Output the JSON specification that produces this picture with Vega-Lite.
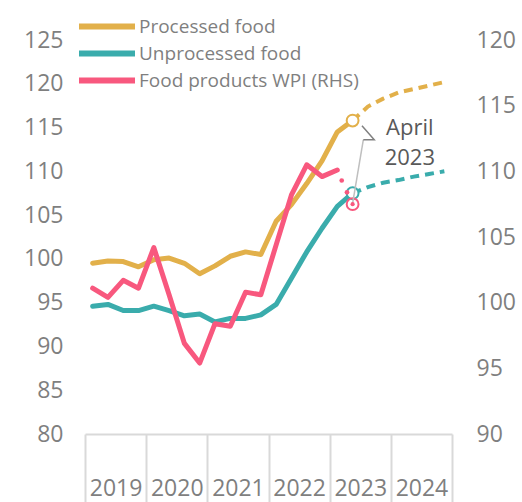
{
  "$schema": "https://vega.github.io/schema/vega-lite/v6.json",
  "width": 367,
  "height": 394,
  "autosize": {"type": "none"},
  "padding": {"left": 85, "top": 40, "right": 70, "bottom": 68},
  "background": "white",
  "config": {
    "view": {"stroke": null},
    "font": "Open Sans",
    "axis": {"labelFont": "Open Sans", "labelFontSize": 23, "labelColor": "#7f7f7f", "grid": false, "title": null},
    "legend": {
      "orient": "none", "legendX": -9, "legendY": -27, "padding": 0, "title": null,
      "symbolType": "stroke", "symbolSize": 3136, "symbolStrokeWidth": 6,
      "labelFont": "Open Sans", "labelFontSize": 19, "labelColor": "#7f7f7f", "labelOffset": 1, "labelLimit": 400,
      "rowPadding": 0, "clipHeight": 27
    }
  },
  "datasets": {
    "main": [
      {"s": "Processed food", "k": "h", "t": 2019.125, "v": 99.5},
      {"s": "Processed food", "k": "h", "t": 2019.375, "v": 99.75},
      {"s": "Processed food", "k": "h", "t": 2019.625, "v": 99.7},
      {"s": "Processed food", "k": "h", "t": 2019.875, "v": 99.1},
      {"s": "Processed food", "k": "h", "t": 2020.125, "v": 99.9},
      {"s": "Processed food", "k": "h", "t": 2020.375, "v": 100.1},
      {"s": "Processed food", "k": "h", "t": 2020.625, "v": 99.5},
      {"s": "Processed food", "k": "h", "t": 2020.875, "v": 98.3},
      {"s": "Processed food", "k": "h", "t": 2021.125, "v": 99.2},
      {"s": "Processed food", "k": "h", "t": 2021.375, "v": 100.3},
      {"s": "Processed food", "k": "h", "t": 2021.625, "v": 100.8},
      {"s": "Processed food", "k": "h", "t": 2021.875, "v": 100.5},
      {"s": "Processed food", "k": "h", "t": 2022.125, "v": 104.3},
      {"s": "Processed food", "k": "h", "t": 2022.375, "v": 106.2},
      {"s": "Processed food", "k": "h", "t": 2022.625, "v": 108.6},
      {"s": "Processed food", "k": "h", "t": 2022.875, "v": 111.2},
      {"s": "Processed food", "k": "h", "t": 2023.125, "v": 114.5},
      {"s": "Processed food", "k": "h", "t": 2023.375, "v": 115.8},
      {"s": "Processed food", "k": "p", "t": 2023.375, "v": 115.8},
      {"s": "Processed food", "k": "p", "t": 2023.625, "v": 117.4},
      {"s": "Processed food", "k": "p", "t": 2023.875, "v": 118.3},
      {"s": "Processed food", "k": "p", "t": 2024.125, "v": 119.0},
      {"s": "Processed food", "k": "p", "t": 2024.375, "v": 119.4},
      {"s": "Processed food", "k": "p", "t": 2024.625, "v": 119.8},
      {"s": "Processed food", "k": "p", "t": 2024.875, "v": 120.2},
      {"s": "Processed food", "k": "c", "t": 2023.375, "v": 115.8},
      {"s": "Unprocessed food", "k": "h", "t": 2019.125, "v": 94.6},
      {"s": "Unprocessed food", "k": "h", "t": 2019.375, "v": 94.8},
      {"s": "Unprocessed food", "k": "h", "t": 2019.625, "v": 94.1},
      {"s": "Unprocessed food", "k": "h", "t": 2019.875, "v": 94.1},
      {"s": "Unprocessed food", "k": "h", "t": 2020.125, "v": 94.6},
      {"s": "Unprocessed food", "k": "h", "t": 2020.375, "v": 94.1},
      {"s": "Unprocessed food", "k": "h", "t": 2020.625, "v": 93.5},
      {"s": "Unprocessed food", "k": "h", "t": 2020.875, "v": 93.7},
      {"s": "Unprocessed food", "k": "h", "t": 2021.125, "v": 92.8},
      {"s": "Unprocessed food", "k": "h", "t": 2021.375, "v": 93.2},
      {"s": "Unprocessed food", "k": "h", "t": 2021.625, "v": 93.2},
      {"s": "Unprocessed food", "k": "h", "t": 2021.875, "v": 93.6},
      {"s": "Unprocessed food", "k": "h", "t": 2022.125, "v": 94.8},
      {"s": "Unprocessed food", "k": "h", "t": 2022.375, "v": 97.8},
      {"s": "Unprocessed food", "k": "h", "t": 2022.625, "v": 100.8},
      {"s": "Unprocessed food", "k": "h", "t": 2022.875, "v": 103.5},
      {"s": "Unprocessed food", "k": "h", "t": 2023.125, "v": 106.0},
      {"s": "Unprocessed food", "k": "h", "t": 2023.375, "v": 107.5},
      {"s": "Unprocessed food", "k": "p", "t": 2023.375, "v": 107.5},
      {"s": "Unprocessed food", "k": "p", "t": 2023.625, "v": 108.2},
      {"s": "Unprocessed food", "k": "p", "t": 2023.875, "v": 108.7},
      {"s": "Unprocessed food", "k": "p", "t": 2024.125, "v": 109.0},
      {"s": "Unprocessed food", "k": "p", "t": 2024.375, "v": 109.4},
      {"s": "Unprocessed food", "k": "p", "t": 2024.625, "v": 109.7},
      {"s": "Unprocessed food", "k": "p", "t": 2024.875, "v": 110.0},
      {"s": "Unprocessed food", "k": "c", "t": 2023.375, "v": 107.5}
    ],
    "wpi": [
      {"s": "Food products WPI (RHS)", "k": "h", "t": 2019.125, "v": 101.1},
      {"s": "Food products WPI (RHS)", "k": "h", "t": 2019.375, "v": 100.4},
      {"s": "Food products WPI (RHS)", "k": "h", "t": 2019.625, "v": 101.7},
      {"s": "Food products WPI (RHS)", "k": "h", "t": 2019.875, "v": 101.1},
      {"s": "Food products WPI (RHS)", "k": "h", "t": 2020.125, "v": 104.2},
      {"s": "Food products WPI (RHS)", "k": "h", "t": 2020.375, "v": 100.6},
      {"s": "Food products WPI (RHS)", "k": "h", "t": 2020.625, "v": 96.9},
      {"s": "Food products WPI (RHS)", "k": "h", "t": 2020.875, "v": 95.4},
      {"s": "Food products WPI (RHS)", "k": "h", "t": 2021.125, "v": 98.4},
      {"s": "Food products WPI (RHS)", "k": "h", "t": 2021.375, "v": 98.2},
      {"s": "Food products WPI (RHS)", "k": "h", "t": 2021.625, "v": 100.8},
      {"s": "Food products WPI (RHS)", "k": "h", "t": 2021.875, "v": 100.6},
      {"s": "Food products WPI (RHS)", "k": "h", "t": 2022.125, "v": 104.4},
      {"s": "Food products WPI (RHS)", "k": "h", "t": 2022.375, "v": 108.2},
      {"s": "Food products WPI (RHS)", "k": "h", "t": 2022.625, "v": 110.5},
      {"s": "Food products WPI (RHS)", "k": "h", "t": 2022.875, "v": 109.6},
      {"s": "Food products WPI (RHS)", "k": "h", "t": 2023.125, "v": 110.1},
      {"s": "Food products WPI (RHS)", "k": "d", "t": 2023.197, "v": 109.3},
      {"s": "Food products WPI (RHS)", "k": "d", "t": 2023.283, "v": 108.4},
      {"s": "Food products WPI (RHS)", "k": "c", "t": 2023.375, "v": 107.5}
    ],
    "anno": [
      {"g": "dark", "o": 1, "t": 2023.528, "v": 113.47},
      {"g": "dark", "o": 2, "t": 2023.729, "v": 112.4},
      {"g": "dark", "o": 3, "t": 2023.55, "v": 112.4},
      {"g": "light", "o": 1, "t": 2023.55, "v": 112.4},
      {"g": "light", "o": 2, "t": 2023.376, "v": 107.57}
    ],
    "labels": [
      {"label": "April\n2023", "t": 2024.31, "v": 113.3}
    ]
  },
  "layer": [
    {
      "data": {"name": "main"},
      "encoding": {
        "x": {
          "field": "t", "type": "quantitative",
          "scale": {"domain": [2019, 2025], "nice": false, "zero": false},
          "axis": {
            "values": [2019, 2020, 2021, 2022, 2023, 2024, 2025],
            "labelExpr": "datum.value < 2025 ? '' + datum.value : ''",
            "labelOffset": 30.6, "labelFlush": false, "labelOverlap": false, "labelBound": false,
            "labelBaseline": "middle", "labelPadding": -14,
            "domainColor": "#d9d9d9", "domainWidth": 2,
            "ticks": true, "tickSize": 68, "tickColor": "#d9d9d9", "tickWidth": 2
          }
        },
        "y": {
          "field": "v", "type": "quantitative",
          "scale": {"domain": [80, 125], "nice": false, "zero": false},
          "axis": {"values": [80, 85, 90, 95, 100, 105, 110, 115, 120, 125], "domain": false, "ticks": false, "labelPadding": 22}
        },
        "color": {
          "field": "s", "type": "nominal",
          "scale": {"domain": ["Processed food", "Unprocessed food", "Food products WPI (RHS)"], "range": ["#E2B04A", "#3AACAC", "#F8587E"]},
          "legend": {}
        }
      },
      "layer": [
        {"transform": [{"filter": "datum.k == 'h'"}], "mark": {"type": "line", "strokeWidth": 5, "strokeCap": "round", "strokeJoin": "round"}},
        {"transform": [{"filter": "datum.k == 'p'"}], "mark": {"type": "line", "strokeWidth": 4, "strokeDash": [9, 6]}},
        {"transform": [{"filter": "datum.k == 'c'"}], "mark": {"type": "point", "shape": "circle", "filled": false, "fill": "white", "fillOpacity": 1, "strokeWidth": 2, "size": 140, "opacity": 1}}
      ]
    },
    {
      "encoding": {
        "x": {"field": "t", "type": "quantitative"},
        "y": {
          "field": "v", "type": "quantitative",
          "scale": {"domain": [90, 120], "nice": false, "zero": false},
          "axis": {"orient": "right", "values": [90, 95, 100, 105, 110, 115, 120], "domain": false, "ticks": false, "labelPadding": 24}
        }
      },
      "layer": [
        {"data": {"name": "wpi"}, "transform": [{"filter": "datum.k == 'h'"}], "mark": {"type": "line", "strokeWidth": 5, "strokeCap": "round", "strokeJoin": "round"}, "encoding": {"color": {"field": "s", "type": "nominal"}}},
        {"data": {"name": "wpi"}, "transform": [{"filter": "datum.k == 'd'"}], "mark": {"type": "circle", "size": 22, "opacity": 1}, "encoding": {"color": {"field": "s", "type": "nominal"}}},
        {"data": {"name": "wpi"}, "transform": [{"filter": "datum.k == 'c'"}], "mark": {"type": "point", "shape": "circle", "filled": false, "fill": "white", "fillOpacity": 0, "strokeWidth": 2, "size": 140, "opacity": 1}, "encoding": {"color": {"field": "s", "type": "nominal"}}},
        {"data": {"name": "anno"}, "transform": [{"filter": "datum.g == 'light'"}], "mark": {"type": "line", "color": "#bfbfbf", "strokeWidth": 1.5}, "encoding": {"order": {"field": "o", "type": "quantitative"}}},
        {"data": {"name": "anno"}, "transform": [{"filter": "datum.g == 'dark'"}], "mark": {"type": "line", "color": "#808080", "strokeWidth": 1.5}, "encoding": {"order": {"field": "o", "type": "quantitative"}}},
        {"data": {"name": "wpi"}, "transform": [{"filter": "datum.k == 'c'"}], "mark": {"type": "circle", "size": 18, "opacity": 1}, "encoding": {"color": {"field": "s", "type": "nominal"}}},
        {"data": {"name": "labels"}, "mark": {"type": "text", "font": "Open Sans", "fontSize": 22, "color": "#595959", "align": "center", "baseline": "middle", "lineBreak": "\n", "lineHeight": 30}, "encoding": {"text": {"field": "label", "type": "nominal"}}}
      ]
    }
  ],
  "resolve": {"scale": {"y": "independent"}}
}
